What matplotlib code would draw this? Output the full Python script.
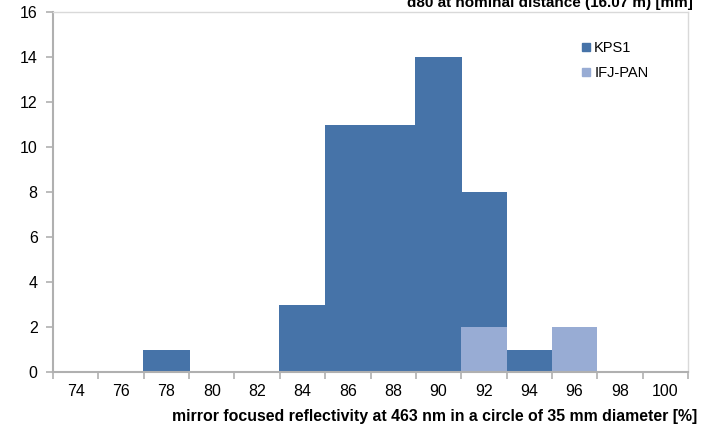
import matplotlib.pyplot as plt
from matplotlib.lines import Line2D

plt.rcParams['font.family'] = ['Liberation Sans', 'DejaVu Sans']

# Categories (x axis) and counts per series
categories = ["74", "76", "78", "80", "82", "84", "86", "88", "90", "92", "94", "96", "98", "100"]
kps1 = [0, 0, 1, 0, 0, 3, 11, 11, 14, 8, 1, 0, 0, 0]
ifj_pan = [0, 0, 0, 0, 0, 0, 0, 0, 0, 2, 0, 2, 0, 0]

c_kps = "#4673A8"
c_ifj = "#98ACD4"
grey = "#B0B0B0"

fig = plt.figure(figsize=(7.03, 4.26), dpi=100)
ax = fig.add_axes([53/703, 1-372/426, (688-53)/703, (372-12)/426])

pos = list(range(len(categories)))
# slightly wider than 1 so adjacent bars join without a seam
ax.bar(pos, kps1, width=1.02, color=c_kps, linewidth=0, antialiased=False)
ax.bar(pos, ifj_pan, width=1.0, color=c_ifj, linewidth=0, antialiased=False)

ax.set_xlim(-0.5, len(categories) - 0.5)
ax.set_ylim(0, 16)
ax.set_yticks(range(0, 17, 2))

# tick marks on category boundaries, labels in the middle
ax.set_xticks([p - 0.5 for p in pos] + [len(categories) - 0.5])
ax.set_xticklabels([])
ax.set_xticks(pos, minor=True)
ax.set_xticklabels(categories, minor=True)
ax.tick_params(axis='x', which='minor', length=0, pad=9, labelsize=11.5)
ax.tick_params(axis='x', which='major', length=5, color=grey, width=1.2)
ax.tick_params(axis='y', length=5, color=grey, width=1.2, labelsize=11.5, pad=6)

for side in ['left', 'bottom']:
    ax.spines[side].set_color(grey)
    ax.spines[side].set_linewidth(1.5)
for side in ['top', 'right']:
    ax.spines[side].set_color("#D9D9D9")
    ax.spines[side].set_linewidth(1.0)

handles = [Line2D([], [], marker='s', linestyle='', color=c_kps, markersize=6),
           Line2D([], [], marker='s', linestyle='', color=c_ifj, markersize=6)]
ax.legend(handles, ["KPS1", "IFJ-PAN"], loc='upper left', bbox_to_anchor=(0.812, 0.955),
          frameon=False, fontsize=10.5, handlelength=0.6, handletextpad=0.25, labelspacing=0.75)

fig.text(693/703, 1-7/426, "d80 at nominal distance (16.07 m) [mm]", ha='right', va='baseline',
         fontsize=11, fontweight='bold')
fig.text(697/703, 1-421/426, "mirror focused reflectivity at 463 nm in a circle of 35 mm diameter [%]",
         ha='right', va='baseline', fontsize=11.4, fontweight='bold')

fig.savefig("out.png", dpi=100)
